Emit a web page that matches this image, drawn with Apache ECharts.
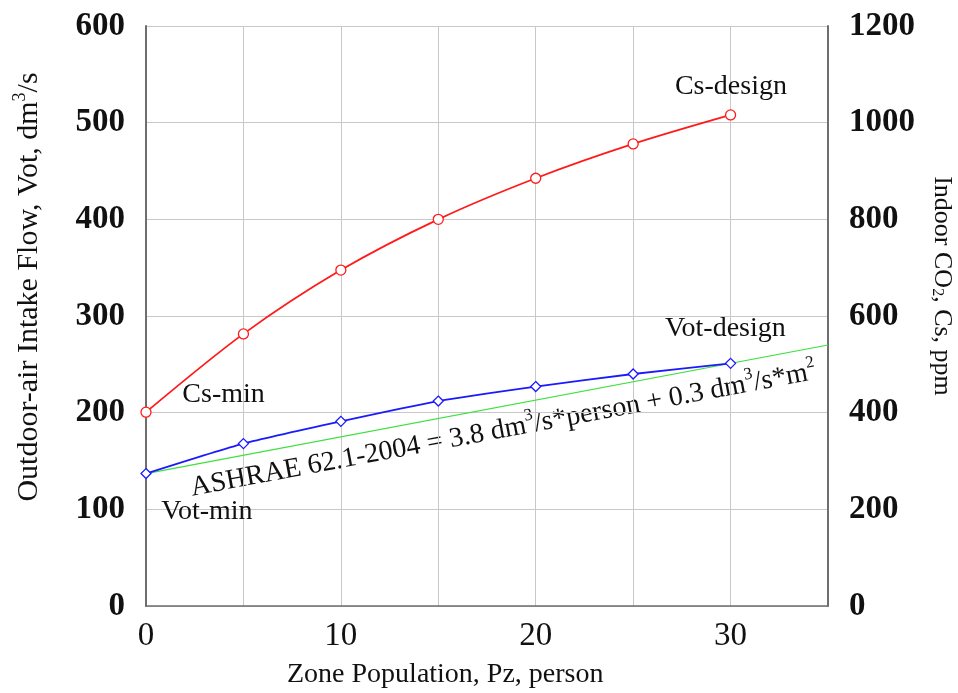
<!DOCTYPE html>
<html>
<head>
<meta charset="utf-8">
<script src="https://cdn.jsdelivr.net/npm/echarts@6/dist/echarts.min.js"></script>
<style>
  html, body { margin: 0; padding: 0; background: #fff; }
  #chart { width: 958px; height: 693px; }
</style>
</head>
<body>
<div id="chart"></div>
<script>
// zone population (person)
const population = [0, 5, 10, 15, 20, 25, 30]
// outdoor-air intake flow, dm3/s
const votValues = [137, 168, 191, 212, 227, 240, 251]
// indoor CO2, ppm
const csValues = [401, 563, 695, 800, 885, 956, 1016]
// ASHRAE 62.1-2004 line
const ashraeX = [0, 35]
const ashraeVot = [137, 270]

const FONT = '"Liberation Serif", "Times New Roman", serif'
const chart = echarts.init(document.getElementById('chart'), null, { renderer: 'canvas' })

const axisLineColor = '#6e6e6e'
const gridColor = '#c8c8c8'
const labelStyle = { color: '#111', fontFamily: FONT, fontSize: 28 }

chart.setOption({
  backgroundColor: '#fff',
  animation: false,
  grid: { left: 146, right: 130, top: 26, bottom: 87 },
  xAxis: {
    type: 'value',
    min: 0,
    max: 35,
    interval: 5,
    axisLine: { onZero: false, lineStyle: { color: axisLineColor, width: 1.5 } },
    axisTick: { show: false },
    splitLine: { lineStyle: { color: gridColor, width: 1 } },
    axisLabel: {
      color: '#111',
      fontFamily: FONT,
      fontSize: 33,
      margin: 14,
      formatter: v => (v % 10 === 0 && v < 35 ? String(v) : '')
    }
  },
  yAxis: [
    {
      type: 'value',
      min: 0,
      max: 600,
      interval: 100,
      axisLine: { show: true, lineStyle: { color: axisLineColor, width: 2 } },
      axisTick: { show: false },
      splitLine: { lineStyle: { color: gridColor, width: 1 } },
      axisLabel: { color: '#111', fontFamily: FONT, fontSize: 33, fontWeight: 'bold', margin: 21 }
    },
    {
      type: 'value',
      min: 0,
      max: 1200,
      interval: 200,
      position: 'right',
      axisLine: { show: true, lineStyle: { color: axisLineColor, width: 2 } },
      axisTick: { show: false },
      splitLine: { show: false },
      axisLabel: {
        color: '#111', fontFamily: FONT, fontSize: 33, fontWeight: 'bold', margin: 21,
        formatter: v => String(v)
      }
    }
  ],
  series: [
    {
      name: 'ASHRAE',
      type: 'line',
      yAxisIndex: 0,
      data: ashraeX.map((x, i) => [x, ashraeVot[i]]),
      symbol: 'none',
      lineStyle: { color: '#3de03d', width: 1.2 },
      z: 1
    },
    {
      name: 'Cs',
      type: 'line',
      yAxisIndex: 1,
      smooth: 0.3,
      data: population.map((x, i) => {
        const item = { value: [x, csValues[i]] }
        if (i === 0) item.label = { show: true, formatter: 'Cs-min', position: [42, -26] }
        if (i === population.length - 1) item.label = { show: true, formatter: 'Cs-design', position: [-50, -37] }
        return item
      }),
      symbol: 'circle',
      symbolSize: 10,
      itemStyle: { color: '#fff', borderColor: '#ff1a1a', borderWidth: 1.3 },
      lineStyle: { color: '#ff1a1a', width: 1.8 },
      label: labelStyle,
      z: 3
    },
    {
      name: 'Vot',
      type: 'line',
      yAxisIndex: 0,
      smooth: 0.2,
      data: population.map((x, i) => {
        const item = { value: [x, votValues[i]] }
        if (i === 0) item.label = { show: true, formatter: 'Vot-min', position: [21, 30] }
        if (i === population.length - 1) item.label = { show: true, formatter: 'Vot-design', position: [-60, -43] }
        return item
      }),
      symbol: 'diamond',
      symbolSize: 10,
      itemStyle: { color: '#fff', borderColor: '#1a1aff', borderWidth: 1.3 },
      lineStyle: { color: '#1a1aff', width: 1.8 },
      label: labelStyle,
      z: 4
    }
  ],
  graphic: [
    {
      type: 'text',
      left: 287,
      top: 661,
      style: { text: 'Zone Population, Pz, person', font: '28px ' + FONT, fill: '#111' }
    },
    {
      type: 'text',
      x: 28,
      y: 287,
      rotation: Math.PI / 2,
      style: {
        text: '{n|Outdoor-air Intake Flow, Vot, dm}{s|3}{n|/s}',
        fill: '#111',
        align: 'center',
        verticalAlign: 'middle',
        rich: {
          n: { fontFamily: FONT, fontSize: 30, fill: '#111', verticalAlign: 'bottom', lineHeight: 33 },
          s: { fontFamily: FONT, fontSize: 18, fill: '#111', verticalAlign: 'top', lineHeight: 33 }
        }
      }
    },
    {
      type: 'text',
      x: 944,
      y: 286,
      rotation: -Math.PI / 2,
      style: {
        text: '{n|Indoor CO}{d|2}{n|, Cs, ppm}',
        fill: '#111',
        align: 'center',
        verticalAlign: 'middle',
        rich: {
          n: { fontFamily: FONT, fontSize: 26, fill: '#111', verticalAlign: 'bottom', lineHeight: 30 },
          d: { fontFamily: FONT, fontSize: 16, fill: '#111', verticalAlign: 'bottom', lineHeight: 26 }
        }
      }
    },
    {
      type: 'text',
      x: 503,
      y: 428,
      rotation: 0.185,
      style: {
        text: '{n|ASHRAE 62.1-2004 = 3.8 dm}{s|3}{n|/s*person + 0.3 dm}{s|3}{n|/s*m}{s|2}',
        fill: '#111',
        align: 'center',
        verticalAlign: 'middle',
        rich: {
          n: { fontFamily: FONT, fontSize: 28, fill: '#111', verticalAlign: 'bottom', lineHeight: 32 },
          s: { fontFamily: FONT, fontSize: 17, fill: '#111', verticalAlign: 'top', lineHeight: 32 }
        }
      }
    }
  ]
})
</script>
</body>
</html>
